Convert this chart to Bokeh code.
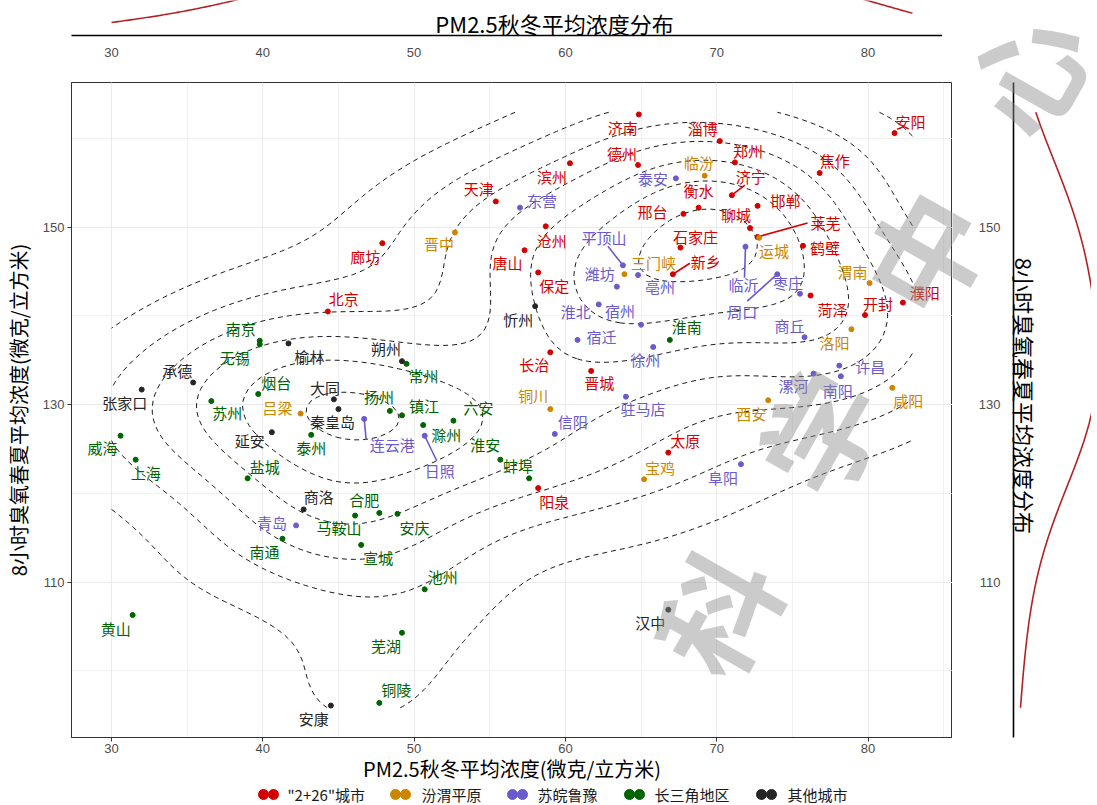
import numpy as np
from bokeh.plotting import figure
from bokeh.models import ColumnDataSource, Range1d, FixedTicker, Label
from bokeh.layouts import row, column
from bokeh.embed import file_html
from bokeh.resources import INLINE
from bokeh.core.properties import value

# ---------------- data ----------------
group_names = ['"2+26"城市', '汾渭平原', '苏皖鲁豫', '长三角地区', '其他城市']
group_colors = ["#D40000", "#CD8500", "#6A5ACD", "#006400", "#262626"]

red_names = ["北京", "天津", "石家庄", "唐山", "廊坊", "保定", "沧州", "衡水", "邢台", "邯郸",
             "太原", "阳泉", "长治", "晋城", "济南", "淄博", "济宁", "德州", "聊城", "滨州",
             "菏泽", "莱芜", "郑州", "开封", "安阳", "鹤壁", "新乡", "焦作", "濮阳"]
red_pm = [44.3, 55.4, 67.6, 57.3, 47.9, 58.2, 58.7, 68.8, 67.8, 72.7,
          66.8, 58.2, 59.0, 61.7, 64.85, 70.2, 71.0, 64.8, 72.2, 60.3,
          76.2, 72.7, 71.2, 79.8, 81.75, 75.7, 67.1, 76.8, 82.3]
red_o3 = [140.5, 152.9, 147.7, 147.4, 148.2, 144.9, 150.1, 152.2, 151.5, 152.4,
          124.6, 120.6, 135.9, 133.8, 162.7, 159.7, 153.6, 157.0, 149.9, 157.2,
          142.3, 148.9, 157.3, 140.1, 160.6, 147.9, 144.7, 156.1, 141.5]

orange_names = ["晋中", "运城", "临汾", "吕梁", "洛阳", "三门峡", "西安", "铜川", "宝鸡", "咸阳", "渭南"]
orange_pm = [52.7, 72.8, 69.2, 42.5, 78.9, 63.9, 73.4, 59.0, 65.2, 81.6, 80.1]
orange_o3 = [149.4, 148.8, 155.8, 129.0, 138.5, 144.7, 130.5, 129.5, 121.6, 131.9, 143.7]

purple_names = ["东营", "泰安", "潍坊", "平顶山", "亳州", "淮北", "宿州", "临沂", "枣庄", "周口",
                "商丘", "徐州", "宿迁", "许昌", "漯河", "南阳", "驻马店", "信阳", "阜阳", "连云港",
                "日照", "青岛"]
purple_pm = [57.0, 67.3, 63.4, 63.8, 64.8, 62.2, 65.0, 71.9, 75.5, 74.0,
             75.8, 65.8, 60.8, 78.1, 76.4, 78.2, 64.0, 59.3, 71.6, 46.7,
             50.7, 42.2]
purple_o3 = [152.2, 155.5, 143.3, 145.7, 144.6, 141.3, 139.0, 147.8, 142.5, 144.7,
             137.6, 136.5, 137.3, 134.4, 133.5, 133.2, 130.9, 126.7, 123.3, 128.4,
             126.5, 116.4]

green_names = ["上海", "南京", "无锡", "常州", "苏州", "南通", "扬州", "镇江", "泰州", "盐城",
               "淮安", "合肥", "马鞍山", "芜湖", "铜陵", "安庆", "池州", "宣城", "黄山", "滁州",
               "六安", "蚌埠", "淮南", "烟台", "威海"]
green_pm = [31.6, 39.8, 39.8, 49.5, 36.6, 41.3, 48.4, 49.2, 43.2, 39.0,
            55.7, 47.7, 46.1, 49.2, 47.7, 48.9, 50.7, 46.5, 31.4, 50.6,
            52.6, 57.6, 66.9, 39.7, 30.6]
green_o3 = [123.8, 137.2, 136.8, 134.6, 130.4, 114.9, 129.3, 128.8, 126.6, 121.7,
            123.8, 117.8, 117.5, 104.3, 96.4, 117.7, 109.2, 114.2, 106.3, 127.7,
            128.2, 121.7, 137.3, 131.2, 126.5]

black_names = ["张家口", "承德", "秦皇岛", "大同", "朔州", "忻州", "榆林", "延安", "商洛", "安康", "汉中"]
black_pm = [32.0, 35.4, 45.0, 44.7, 49.2, 58.0, 41.7, 40.6, 42.7, 44.5, 66.8]
black_o3 = [131.7, 132.5, 129.5, 130.6, 134.9, 141.1, 136.9, 126.9, 118.2, 96.1, 106.9]

# ---------------- layout of labels (screen px, +y = down) ----------------
label_offset = {
    "安阳": (16, -12), "济南": (-16, 13), "淄博": (-17, -13), "郑州": (13, -12), "焦作": (15, -13),
    "德州": (-16, -12), "济宁": (19, -19), "滨州": (-18, 13), "衡水": (0, -17), "天津": (-17, -13),
    "邯郸": (28, -5), "邢台": (-31, -2), "聊城": (-14, -14), "莱芜": (68, -14), "石家庄": (15, -11),
    "鹤壁": (22, 2), "廊坊": (-17, 13), "沧州": (6, 14), "新乡": (33, -13), "唐山": (-17, 12),
    "保定": (16, 13), "菏泽": (22, 14), "开封": (13, -12), "濮阳": (22, -10), "北京": (16, -13),
    "长治": (-16, 12), "晋城": (8, 12), "太原": (17, -12), "阳泉": (16, 13),
    "晋中": (-16, 11), "临汾": (-6, -13), "三门峡": (29, -12), "运城": (15, 13), "渭南": (-17, -12),
    "洛阳": (-17, 13), "咸阳": (16, 13), "西安": (-17, 13), "宝鸡": (16, -12), "铜川": (-17, -14),
    "吕梁": (-23, -6),
    "东营": (22, -7), "泰安": (-23, 0), "潍坊": (-17, -13), "平顶山": (-19, -28), "亳州": (22, 11),
    "淮北": (-23, 7), "宿州": (-21, -14), "临沂": (-2, 38), "枣庄": (-12, -11), "周口": (-35, 37),
    "商丘": (-15, -12), "徐州": (-8, 13), "宿迁": (24, -3), "许昌": (31, 1), "漯河": (-20, 12),
    "南阳": (-3, 14), "驻马店": (17, 12), "信阳": (18, -12), "阜阳": (-18, 13), "连云港": (28, 26),
    "日照": (15, 35), "青岛": (-24, -3),
    "南京": (-19, -12), "无锡": (-25, 13), "常州": (17, 12), "烟台": (18, -12), "苏州": (16, 11),
    "扬州": (-11, -14), "镇江": (22, -10), "滁州": (23, 9), "六安": (25, -13), "泰州": (0, 13),
    "威海": (-18, 12), "上海": (10, 13), "淮安": (-15, -15), "盐城": (17, -12), "蚌埠": (-11, -13),
    "淮南": (17, -13), "合肥": (-15, -13), "马鞍山": (-16, 12), "安庆": (17, 14), "南通": (-18, 13),
    "宣城": (17, 13), "池州": (18, -13), "黄山": (-17, 13), "芜湖": (-16, 13), "铜陵": (17, -13),
    "忻州": (-17, 13), "朔州": (-16, -13), "榆林": (21, 13), "承德": (-16, -12), "张家口": (-17, 13),
    "大同": (-9, -12), "秦皇岛": (-6, 12), "延安": (-22, 8), "商洛": (15, -13), "安康": (-17, 13),
    "汉中": (-18, 13),
}
# leader segment end (screen px from the point)
leader_end = {
    "济宁": (13, -10), "莱芜": (50, -14), "新乡": (17, -11), "平顶山": (-15, -19),
    "临沂": (-1, 31), "周口": (-30, 27), "连云港": (2, 21), "日照": (12, 25),
}

# ---------------- geometry ----------------
X0, X1 = 27.36, 85.58
Y0, Y1 = 92.5, 166.3
FW, FH = 881, 655
TOP_H = 35
LEFT_B = 61
FRAME_TOP = TOP_H + 47          # page y of the main frame top
kx = FW / (X1 - X0)
ky = FH / (Y1 - Y0)
CJK = "Noto Sans CJK SC"
LAT = "Liberation Sans"

xr = Range1d(X0, X1)
yr = Range1d(Y0, Y1)

groups = [
    (red_names, red_pm, red_o3),
    (orange_names, orange_pm, orange_o3),
    (purple_names, purple_pm, purple_o3),
    (green_names, green_pm, green_o3),
    (black_names, black_pm, black_o3),
]
all_x = np.array(sum([list(g[1]) for g in groups], []), dtype=float)
all_y = np.array(sum([list(g[2]) for g in groups], []), dtype=float)
n = len(all_x)

# scale limits (data range) as ggplot computes them
lx0 = X0 + (X1 - X0) * 0.05 / 1.1
lx1 = X1 - (X1 - X0) * 0.05 / 1.1
ly0 = Y0 + (Y1 - Y0) * 0.05 / 1.1
ly1 = Y1 - (Y1 - Y0) * 0.05 / 1.1


def phi(u):
    return np.exp(-0.5 * u * u) / np.sqrt(2 * np.pi)


def iqr(v):
    q75, q25 = np.percentile(v, [75, 25])
    return q75 - q25


def bw_nrd(v):
    return 4 * 1.06 * min(np.std(v, ddof=1), iqr(v) / 1.34) * len(v) ** (-0.2)


def bw_nrd0(v):
    return 0.9 * min(np.std(v, ddof=1), iqr(v) / 1.34) * len(v) ** (-0.2)


def pretty(lo, hi, nd=10):
    cell = (hi - lo) / nd
    U = 10 ** np.floor(np.log10(cell))
    unit = U
    if 2 * U - cell < 1.5 * (cell - unit):
        unit = 2 * U
        if 5 * U - cell < 2.75 * (cell - unit):
            unit = 5 * U
            if 10 * U - cell < 1.5 * (cell - unit):
                unit = 10 * U
    a = np.floor(lo / unit + 1e-7)
    b = np.ceil(hi / unit - 1e-7)
    return np.arange(a, b + 1) * unit


# 2D kde (MASS::kde2d style)
hx = bw_nrd(all_x) / 4
hy = bw_nrd(all_y) / 4
gx = np.linspace(lx0, lx1, 100)
gy = np.linspace(ly0, ly1, 100)
ax = phi((gx[:, None] - all_x[None, :]) / hx)
ay = phi((gy[:, None] - all_y[None, :]) / hy)
z = ay @ ax.T / (n * hx * hy)
lv = pretty(z.min(), z.max(), 10)
lv = [float(v) for v in lv if z.min() < v < z.max()]


# marginal densities
def kde1(v, grid, adjust=1.0):
    b = bw_nrd0(v) * adjust
    return phi((grid[:, None] - v[None, :]) / b).sum(axis=1) / (len(v) * b)


mx = np.linspace(lx0, lx1, 512)
dmx = kde1(all_x, mx, 1.0)
my = np.linspace(ly0, ly1, 512)
dmy = kde1(all_y, my, 1.5)

WM_COLOR = "#8C8C8C"
WM_ALPHA = 0.45
WM_ANGLE = np.radians(60.5)


def watermark(fig, ch, xd, yd):
    fig.add_layout(Label(x=xd, y=yd, text=ch, angle=WM_ANGLE, text_align="center",
                         text_baseline="middle", text_color=WM_COLOR, text_alpha=WM_ALPHA,
                         text_font=CJK, text_font_style="bold", text_font_size="118px"))


# ---------------- main figure ----------------
p = figure(frame_width=FW, frame_height=FH, x_range=xr, y_range=yr,
           min_border_left=LEFT_B, min_border_right=0, min_border_top=0, min_border_bottom=47,
           output_backend="svg", toolbar_location=None)
p.outline_line_color = "#333333"
p.outline_line_width = 1

p.xaxis.ticker = FixedTicker(ticks=[30, 40, 50, 60, 70, 80],
                             minor_ticks=[30, 35, 40, 45, 50, 55, 60, 65, 70, 75, 80, 85])
p.yaxis.ticker = FixedTicker(ticks=[110, 130, 150],
                             minor_ticks=[100, 110, 120, 130, 140, 150, 160])
for g in (p.xgrid, p.ygrid):
    g.grid_line_color = "#EBEBEB"
    g.grid_line_width = 1
    g.minor_grid_line_color = "#EBEBEB"
    g.minor_grid_line_width = 0.7
for a in (p.xaxis, p.yaxis):
    a.axis_line_color = "#333333"
    a.major_tick_line_color = "#333333"
    a.major_tick_out = 4
    a.major_tick_in = 0
    a.minor_tick_out = 0
    a.minor_tick_in = 0
    a.major_label_text_font = LAT
    a.major_label_text_font_size = "13px"
    a.major_label_text_color = "#4D4D4D"
    a.axis_label_text_font = CJK
    a.axis_label_text_font_size = "20px"
    a.axis_label_text_font_style = "normal"
    a.axis_label_text_color = "#000000"
p.xaxis.axis_label = "PM2.5秋冬平均浓度(微克/立方米)"
p.yaxis.axis_label = "8小时臭氧春夏平均浓度(微克/立方米)"
p.xaxis.major_label_standoff = 2
p.xaxis.axis_label_standoff = -2
p.yaxis.major_label_standoff = 3
p.yaxis.axis_label_standoff = 7

p.contour(gx, gy, z, lv, line_color="black", line_dash="5 4", line_width=0.9)

for (names, xs, ys), col in zip(groups, group_colors):
    sx, sy, ex, ey = [], [], [], []
    for nm, xv, yv in zip(names, xs, ys):
        if nm in leader_end:
            dx, dy = leader_end[nm]
            sx.append(xv); sy.append(yv)
            ex.append(xv + dx / kx); ey.append(yv - dy / ky)
    if sx:
        p.segment(sx, sy, ex, ey, line_color=col, line_width=1.6)
    p.scatter(list(xs), list(ys), size=5, color=col)
    src = ColumnDataSource(dict(
        x=list(xs), y=list(ys), t=list(names),
        dx=[label_offset[nm][0] for nm in names],
        dy=[label_offset[nm][1] for nm in names]))
    p.text(x="x", y="y", text="t", x_offset="dx", y_offset="dy", source=src,
           text_align="center", text_baseline="middle", text_color=col,
           text_font=value(CJK), text_font_size="15px")

# watermark (page pixel centres -> main data coordinates)
WM_CHARS = [("科", (711, 610)), ("学", (814, 430)), ("中", (918, 250)), ("心", (1021, 70))]


def main_xy(px, py):
    return X0 + (px - (8 + LEFT_B)) / kx, Y1 - (py - FRAME_TOP) / ky


for ch, (px_, py_) in WM_CHARS[:3]:
    watermark(p, ch, *main_xy(px_, py_))

# ---------------- top marginal ----------------
ytop = float(dmx[0]) * TOP_H / 13
top = figure(frame_width=FW, frame_height=TOP_H, x_range=xr, y_range=Range1d(0, ytop),
             min_border_left=LEFT_B, min_border_right=0, min_border_top=0, min_border_bottom=47,
             y_axis_location=None, output_backend="svg", toolbar_location=None)
top.outline_line_color = None
top.grid.visible = False
top.xaxis.ticker = FixedTicker(ticks=[30, 40, 50, 60, 70, 80])
top.xaxis.axis_line_color = "black"
top.xaxis.axis_line_width = 1.6
top.xaxis.major_tick_out = 0
top.xaxis.major_tick_in = 0
top.xaxis.minor_tick_out = 0
top.xaxis.minor_tick_in = 0
top.xaxis.major_label_standoff = 12
top.xaxis.major_label_text_font = LAT
top.xaxis.major_label_text_font_size = "13px"
top.xaxis.major_label_text_color = "#4D4D4D"
top.line(mx, dmx, line_color="#B22222", line_width=1.6)
top.text(x=[X0 + (552 - 69) / kx], y=[ytop * 13 / TOP_H], text=["PM2.5秋冬平均浓度分布"],
         text_align="center", text_baseline="middle", text_color="black",
         text_font=value(CJK), text_font_size="22px")

# ---------------- right marginal (frame covers its whole canvas) ----------------
RW = 78            # px from the axis line to the right edge
RL = 61            # px from the canvas left edge to the axis line
RH = 795
s = float(dmy.max()) / 84.0          # density units per pixel
rt = figure(frame_width=RL + RW, frame_height=RH,
            x_range=Range1d(-RL * s, RW * s),
            y_range=Range1d(Y1 - (RH - FRAME_TOP) / ky, Y1 + FRAME_TOP / ky),
            min_border_left=0, min_border_right=0, min_border_top=0, min_border_bottom=0,
            x_axis_location=None, y_axis_location="left",
            output_backend="svg", toolbar_location=None)
rt.outline_line_color = None
rt.grid.visible = False
rt.yaxis.fixed_location = 0
rt.yaxis.bounds = (Y0, Y1)
rt.yaxis.ticker = FixedTicker(ticks=[110, 130, 150])
rt.yaxis.axis_line_color = "black"
rt.yaxis.axis_line_width = 1.6
rt.yaxis.major_tick_out = 0
rt.yaxis.major_tick_in = 0
rt.yaxis.minor_tick_out = 0
rt.yaxis.minor_tick_in = 0
rt.yaxis.major_label_standoff = 13
rt.yaxis.major_label_text_font = LAT
rt.yaxis.major_label_text_font_size = "13px"
rt.yaxis.major_label_text_color = "#4D4D4D"
rt.line(dmy, my, line_color="#B22222", line_width=1.6)
rt.text(x=[11 * s], y=[131.0], text=["8小时臭氧春夏平均浓度分布"], angle=-np.pi / 2,
        text_align="center", text_baseline="middle", text_color="black",
        text_font=value(CJK), text_font_size="22px")


def right_xy(px, py):
    return (px - (8 + FW + LEFT_B + RL)) * s, Y1 - (py - FRAME_TOP) / ky


for ch, (px_, py_) in WM_CHARS[2:]:
    watermark(rt, ch, *right_xy(px_, py_))

# ---------------- legend strip ----------------
leg = figure(frame_width=FW, frame_height=18, x_range=Range1d(LEFT_B, LEFT_B + FW),
             y_range=Range1d(0, 1),
             min_border_left=LEFT_B, min_border_right=0, min_border_top=0, min_border_bottom=0,
             x_axis_location=None, y_axis_location=None, output_backend="svg", toolbar_location=None)
leg.outline_line_color = None
leg.grid.visible = False
leg_dot1 = [253, 385, 502, 619, 751]
leg_txt = [277, 411, 527, 644, 777]
for gname, col, d1, tx in zip(group_names, group_colors, leg_dot1, leg_txt):
    leg.scatter([d1, d1 + 10], [0.5, 0.5], size=10, color=col)
    leg.text(x=[tx], y=[0.5], text=[gname], text_align="left", text_baseline="middle",
             text_color="#1A1A1A", text_font=value(CJK), text_font_size="15px")

layout = row(column(top, p, leg), rt)
open("out.html", "w").write(file_html(layout, INLINE))
